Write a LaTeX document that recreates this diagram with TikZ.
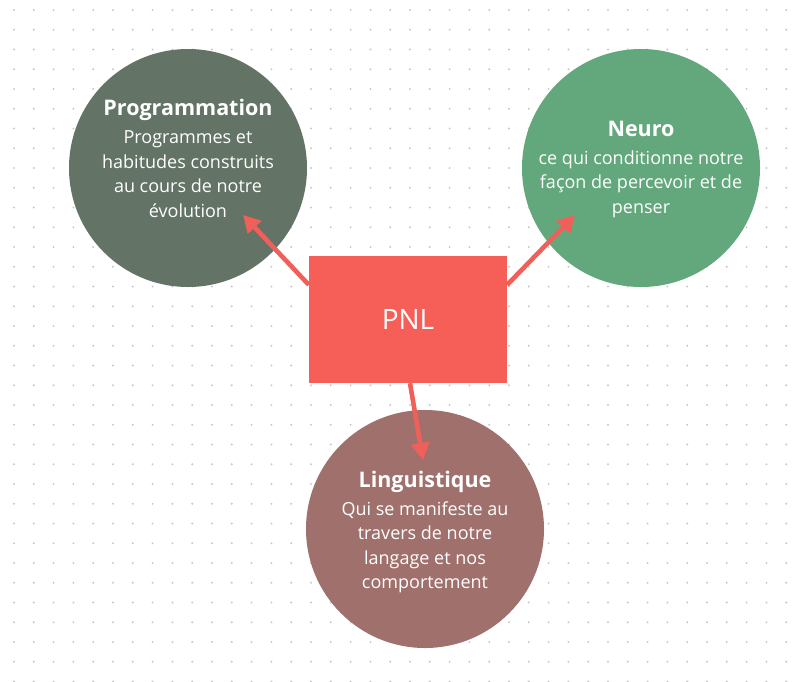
\documentclass[tikz,border=0pt]{standalone}
\usepackage{fontspec}
\setmainfont{Open Sans}
\usepackage{tikz}
\usetikzlibrary{arrows.meta,calc,positioning}
\definecolor{dotgray}{HTML}{C9C9C9}
\definecolor{prog}{HTML}{637366}
\definecolor{neuro}{HTML}{63A87C}
\definecolor{ling}{HTML}{A0706C}
\definecolor{pnlred}{HTML}{F55F58}
\definecolor{arrred}{HTML}{F0605A}
\newcommand{\ttlfont}{\fontsize{21.5}{24.5}\selectfont\bfseries}

\begin{document}
\begin{tikzpicture}[x=1pt,y=-1pt,
  bubble/.style={circle,minimum size=238pt,inner sep=0pt},
  txt/.style={anchor=north,align=center,inner sep=0pt,text=white,font=\fontsize{18}{24.5}\selectfont},
  box/.style={fill=pnlred,minimum width=198pt,minimum height=127pt,inner sep=0pt,text=white,font=\fontsize{28}{32}\selectfont},
  arr/.style={-{Triangle[length=17pt,width=18pt]},draw=arrred,line width=4.6pt}]
  \useasboundingbox (0,0) rectangle (795,681);
  \fill[white] (0,0) rectangle (795,681);
  % dotted background
  \foreach \i in {0,...,39}
    \foreach \j in {0,...,34}
      \fill[dotgray] (14+19.8*\i,10+19.75*\j) circle (1.1pt);
  % circles
  \node[bubble,fill=prog] (programmation) at (188,168) {};
  \node[bubble,fill=neuro] (neuro) at (641,168) {};
  \node[bubble,fill=ling] (linguistique) at (425,529) {};
  \node[box] (pnl) at (408,319.5) {PNL};
  % texts
  \node[txt] (programmationtxt) at (188,99) {{\ttlfont Programmation}\\[3.5pt]Programmes et\\habitudes construits\\au cours de notre\\évolution};
  \node[txt] (neurotxt) at (641,121) {{\ttlfont Neuro}\\[3pt]ce qui conditionne notre\\façon de percevoir et de\\penser};
  \node[txt] (linguistiquetxt) at (425,471) {{\ttlfont Linguistique}\\[3pt]Qui se manifeste au\\travers de notre\\langage et nos\\comportement};
  % arrows
  \coordinate (progtip) at ($(programmation)+(55,47)$);
  \coordinate (neurotip) at ($(neuro)+(-66,47)$);
  \coordinate (lingtip) at ($(linguistique)+(-2,-69)$);
  \draw[arr] ($(pnl.north west)+(0,29)$) -- (progtip);
  \draw[arr] ($(pnl.north east)+(0,29)$) -- (neurotip);
  \draw[arr] ($(pnl.south)+(2,0)$) -- (lingtip);
\end{tikzpicture}
\end{document}
